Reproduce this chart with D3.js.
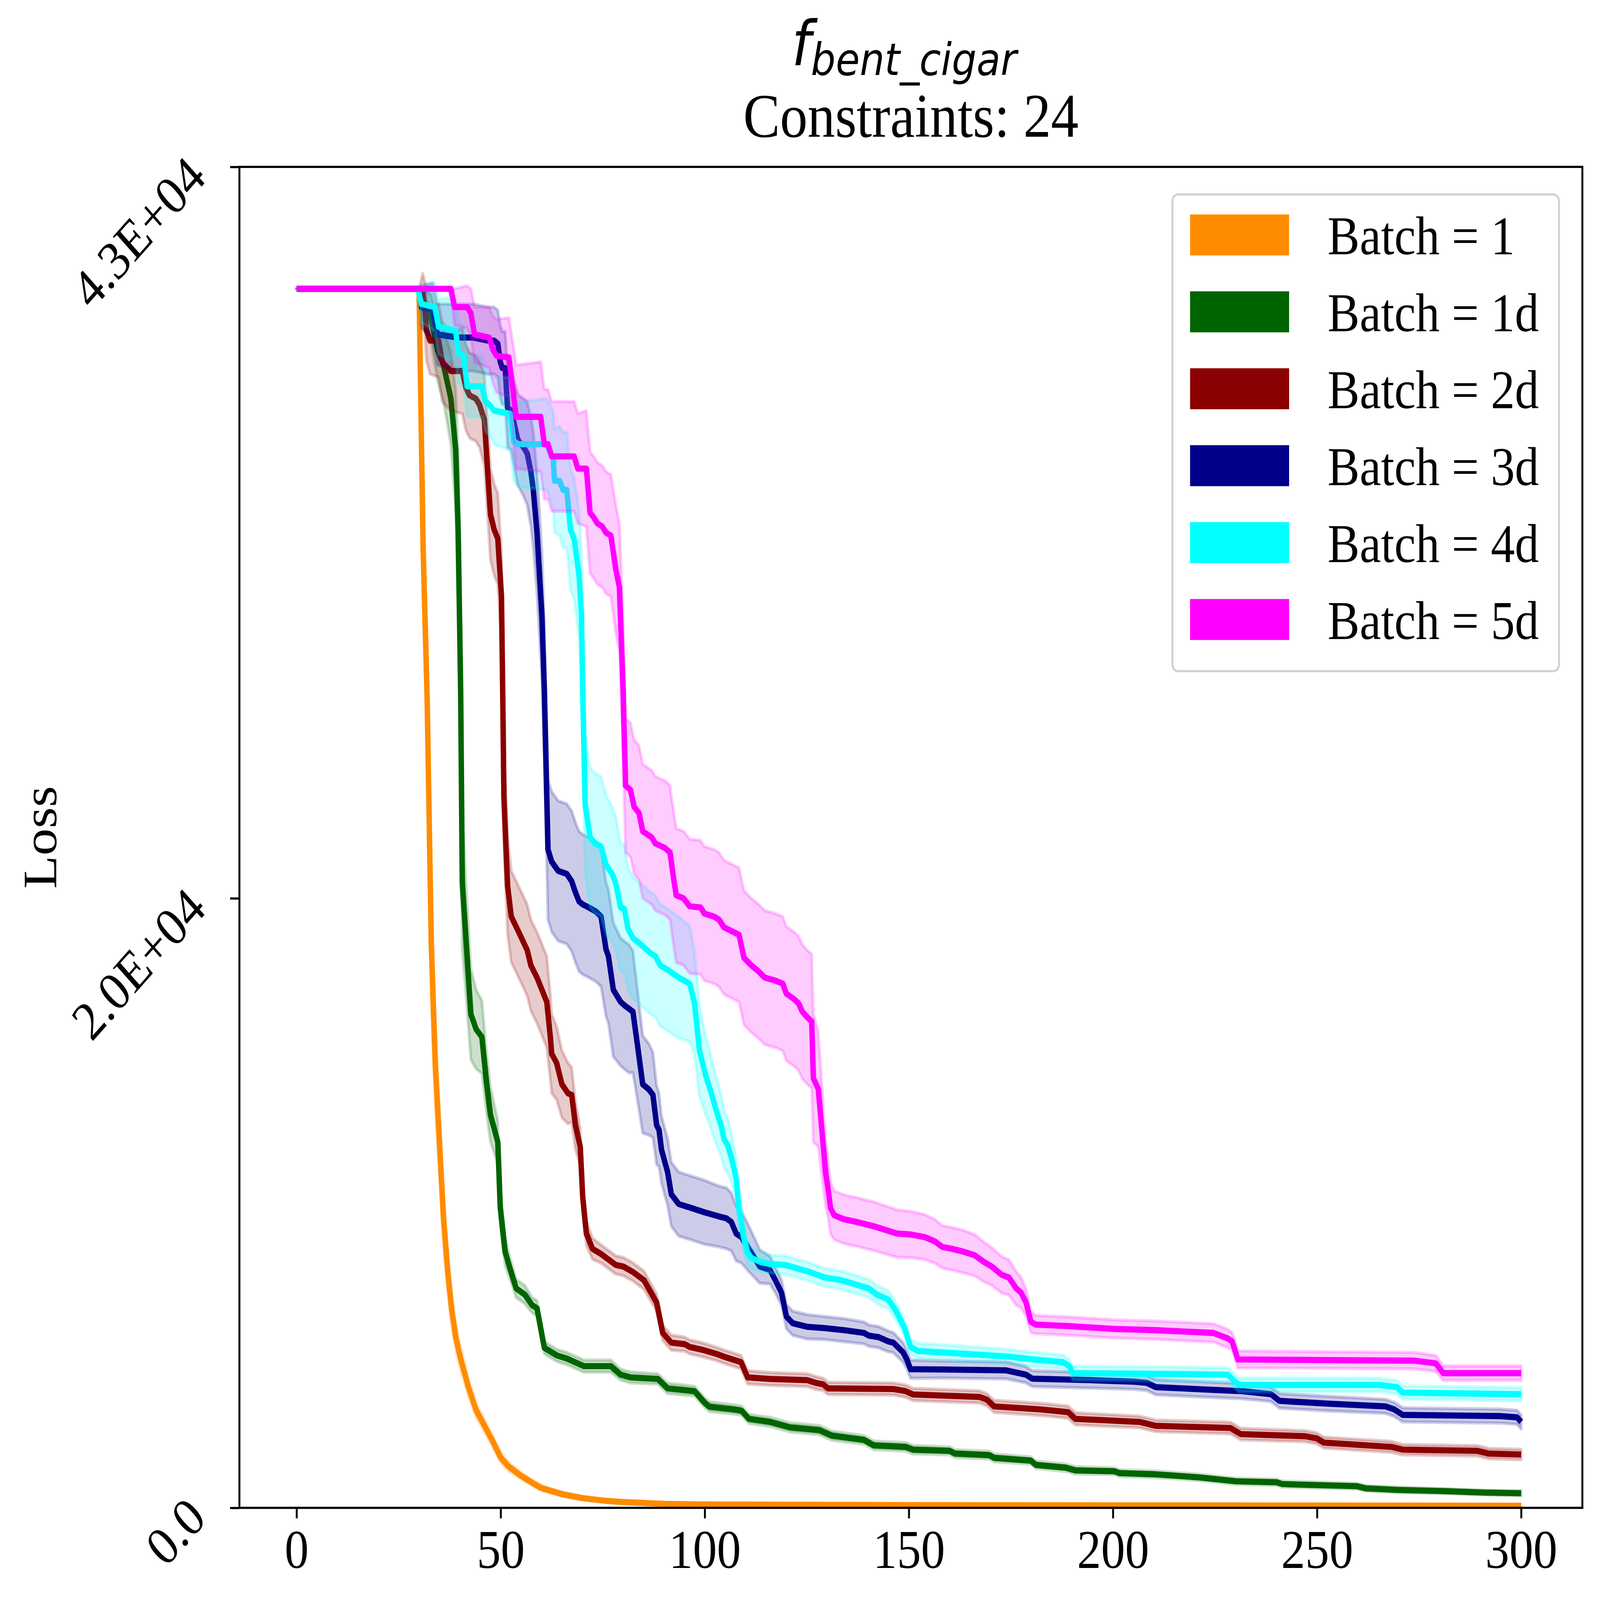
<!DOCTYPE html>
<html>
<head>
<meta charset="utf-8">
<script src="https://cdn.jsdelivr.net/npm/d3@7"></script>
<style>
  html, body { margin: 0; padding: 0; background: #fff; overflow: hidden; }
  #chart svg { display: block; width: 100vw; height: 100vh; }
</style>
</head>
<body>
<div id="chart"></div>
<script>
// tick labels
const xTicks = [0, 50, 100, 150, 200, 250, 300]
const yTickValues = [0, 20000, 44000]
const yTickLabels = ['0.0', '2.0E+04', '4.3E+04']

const seriesNames = ['Batch = 1', 'Batch = 1d', 'Batch = 2d', 'Batch = 3d', 'Batch = 4d', 'Batch = 5d']
const seriesColors = ['#ff8c00', '#006400', '#8b0000', '#00008b', '#00ffff', '#ff00ff']

// rows are [iteration, mean loss, spread]
const batch1 = [
  [0,40000,0],[30,40000,0],[31,31500,1500],[32,26500,2000],[33,18500,2000],[34,14500,1500],
  [35,12000,1200],[36,9500,900],[37,7800,700],[38,6500,550],[39,5600,450],[40,5000,400],
  [41,4500,350],[42,4000,300],[43,3600,280],[44,3200,250],[46,2700,220],[48,2200,200],
  [50,1650,180],[52,1350,150],[55,1050,120],[58,800,100],[60,650,90],[65,450,70],
  [70,320,50],[75,240,40],[80,190,30],[90,130,20],[100,110,15],[150,90,10],[200,80,10],[300,70,10]
]
const batch1d = [
  [0,40000,0],[30,40000,0],[31,39500,500],[33,39000,800],[34.5,38000,1000],[36,37500,1200],
  [37.8,36400,1500],[39,34700,2000],[39.6,32000,2500],[40.2,26800,2500],[40.6,20500,2200],
  [41.5,18650,1800],[42.7,16200,1500],[44,15700,1300],[45.4,15450,1200],[46.5,14000,1000],
  [47.5,12900,900],[49.3,12000,700],[49.9,9850,600],[51.1,8400,450],[52.3,7850,350],
  [53.8,7200,300],[55.9,7000,300],[57.7,6650,250],[58.9,6550,250],[60.7,5250,200],
  [63.8,5000,200],[66.2,4900,200],[70.4,4650,200],[77,4650,200],[79.4,4370,180],
  [81.8,4280,180],[88.5,4230,170],[90.9,3920,170],[97.5,3830,160],[99.9,3460,160],
  [101.1,3320,160],[107.1,3230,150],[109,3190,150],[110.8,2920,150],[116,2820,150],
  [120.9,2640,150],[128.1,2550,150],[131.1,2370,150],[139,2230,140],[141.4,2050,140],
  [149.2,2000,140],[151,1910,140],[160,1870,130],[161.3,1780,130],[169.7,1730,130],
  [170.9,1640,130],[179.9,1550,120],[181.1,1410,120],[188.4,1320,120],[190.8,1230,120],
  [200.4,1200,110],[201.6,1140,110],[210.5,1100,110],[221.1,1000,100],[230.2,870,100],
  [240.1,840,100],[241.5,780,100],[259.8,710,90],[261.9,640,90],[269.6,590,90],
  [280.9,550,80],[291.4,500,80],[300,480,80]
]
const batch2d = [
  [0,40000,0],[30,40000,0],[30.9,39900,600],[31.5,39300,900],[31.8,38650,1000],[32.7,38300,1100],
  [34.8,38300,1200],[35.7,37600,1300],[36.3,37500,1300],[37.8,37300,1300],[40.6,37300,1400],
  [41.5,36750,1400],[42.4,36500,1400],[43.9,36400,1400],[44.8,36200,1400],[46,35700,1500],
  [47.5,32600,1500],[48.4,32100,1500],[49.3,31800,1500],[50.2,29900,1500],[50.5,26800,1600],
  [50.8,23300,1600],[51.7,20400,1600],[52.6,19400,1500],[54.4,18900,1500],[56.5,18300,1500],
  [57.4,17800,1500],[58.9,17400,1500],[60.1,17000,1500],[61.3,16600,1500],[62.2,15400,1400],
  [62.5,14900,1300],[63.7,14600,1200],[65,13900,1100],[66.5,13600,1000],[67.4,13550,900],
  [68.3,12570,800],[69.5,11840,600],[70.1,10200,500],[71,9000,400],[72.5,8500,350],
  [74.6,8330,300],[76.4,8150,300],[78.2,7970,300],[80,7920,300],[82.4,7740,300],
  [85.1,7470,300],[88.2,6740,280],[89.7,5740,250],[91.8,5420,250],[95.1,5370,230],
  [96.3,5280,230],[99.3,5190,230],[102.9,5050,220],[104.7,4960,220],[108.9,4780,220],
  [110.5,4280,220],[116,4230,210],[125.1,4190,210],[127.2,4100,210],[129,4050,200],
  [130.2,3920,200],[146.2,3900,200],[149.2,3830,200],[151,3720,200],[167.3,3640,200],
  [169.1,3550,200],[170.9,3330,200],[182.3,3230,200],[189,3140,200],[190.8,2920,200],
  [206.5,2820,190],[210.5,2690,190],[228.8,2620,190],[231.3,2420,190],[247.1,2350,180],
  [249.9,2280,180],[251.7,2140,180],[268.2,2000,180],[271,1910,170],[289.3,1870,170],
  [292.1,1780,170],[300,1750,170]
]
const batch3d = [
  [0,40000,0],[30,40000,0],[30.6,39400,700],[33.3,39300,900],[34.5,38500,1000],[39.6,38400,1100],
  [43.3,38400,1100],[46.9,38300,1100],[48.4,38300,1100],[49.3,38200,1100],[49.9,37600,1200],
  [50.4,37400,1200],[51.1,37400,1200],[51.7,36100,1300],[52.6,36000,1300],[54.1,35100,1500],
  [54.4,35000,1500],[55.6,34800,1600],[56.5,34600,1700],[57.4,34000,1800],[58,33400,1900],
  [58.9,32000,2000],[60.1,29300,2100],[60.7,26800,2200],[61.6,21600,2300],[62.5,21200,2300],
  [64.1,20900,2300],[66.2,20800,2300],[67.4,20560,2300],[68.3,20200,2300],[69.2,19900,2300],
  [70.1,19800,2300],[71.6,19700,2300],[73.4,19560,2300],[74.6,19400,2300],[75.8,18330,2200],
  [76.4,18100,2200],[77.6,17000,2200],[79.4,16600,2100],[80.6,16460,2100],[81.5,16370,2100],
  [82.4,16280,2000],[83.6,15100,1800],[84.8,13900,1600],[86.3,13730,1500],[87.3,13550,1400],
  [88.2,12560,1300],[88.8,12400,1200],[89.4,11750,1100],[90.9,11020,1100],[91.8,10290,1050],
  [93.6,9970,1050],[96.9,9830,1050],[99.9,9700,1050],[103.5,9560,1000],[105.3,9500,1000],
  [106.5,9380,950],[107.7,9000,900],[109,8880,850],[110.8,8500,750],[113.5,7920,550],
  [116,7800,450],[117.3,7470,420],[118.8,7060,420],[120,6280,400],[121.5,6060,400],
  [125.1,5940,400],[129.3,5900,380],[134.1,5830,380],[139,5740,360],[140.2,5650,350],
  [142.6,5600,350],[145,5460,340],[146.2,5420,330],[148.6,5100,320],[149.5,4870,300],
  [150.4,4550,300],[158.2,4540,280],[173.9,4510,280],[178.7,4370,270],[180.2,4240,260],
  [194.4,4190,260],[205.2,4140,250],[208.3,4100,250],[210.5,3960,250],[224.6,3870,250],
  [231.6,3830,250],[238.7,3730,240],[240.8,3510,240],[252.7,3420,240],[266.8,3330,230],
  [268.9,3230,230],[271,3050,230],[294.9,3010,230],[299,2970,230],[300,2820,230]
]
const batch4d = [
  [0,40000,0],[29.7,40000,0],[30.6,39500,600],[33.9,39400,800],[34.8,38750,900],[36.9,38700,1000],
  [39,38600,1000],[39.6,37900,1000],[40.9,37800,1000],[41.8,36800,1000],[45.4,36800,1000],
  [46.3,36300,1000],[47.2,36200,1000],[48.4,36000,1100],[52.3,35900,1200],[53.2,35000,1300],
  [54.4,34900,1400],[61.3,34900,1500],[62.9,34400,1600],[63.2,33700,1700],[64.4,33700,1800],
  [65.3,33400,1900],[66.2,33400,1900],[67.1,32100,2000],[68,31800,2000],[69.2,30600,2100],
  [69.8,29300,2100],[70.1,26800,2200],[70.7,23100,2300],[71.9,22000,2300],[73.1,21800,2300],
  [74.6,21700,2300],[75.8,21100,2300],[77.3,20800,2200],[78.2,20500,2200],[79.4,19700,2100],
  [80.3,19650,2100],[81.2,19000,2000],[82.4,18700,2000],[84.2,18500,2000],[86.7,18200,2000],
  [87.9,18100,2000],[89.1,17800,2000],[90.3,17700,2000],[91.5,17600,2000],[93.6,17400,2000],
  [96.3,17200,1900],[97.5,16550,1700],[98.7,15000,1500],[100.2,14200,1300],[101.4,13700,1200],
  [102.9,13000,1100],[104.1,12500,1000],[104.7,12100,950],[105.6,11900,900],[106.5,11500,800],
  [107.7,10800,700],[108.4,9800,600],[109.5,8900,500],[110.5,8380,400],[111.4,8200,350],
  [113.8,8060,320],[116,8000,300],[119.7,7970,300],[125.7,7740,300],[129.3,7560,300],
  [133.5,7470,300],[140.2,7200,300],[142,7010,300],[145,6830,300],[146.8,6470,280],
  [148.9,5920,260],[150.4,5280,250],[152.2,5150,250],[164.3,5050,250],[174.5,4960,240],
  [180.5,4870,240],[187.8,4780,230],[189.3,4650,230],[190.2,4420,230],[210.5,4400,230],
  [228.1,4370,230],[229.5,4190,230],[230.9,4030,230],[265.4,4030,220],[269.6,3960,220],
  [271,3780,220],[300,3730,220]
]
const batch5d = [
  [0,40000,0],[37.8,40000,0],[38.7,39400,600],[41.8,39400,700],[42.7,39200,800],[43.6,38500,900],
  [47.2,38400,1000],[48.1,38000,1100],[49,37800,1200],[52,37750,1300],[52.9,36800,1500],
  [53.8,35800,1700],[59.8,35800,1800],[60.7,34900,1800],[61.6,34900,1800],[62.5,34500,1800],
  [68,34500,1800],[68.9,34100,1800],[71,34100,1900],[71.9,32650,2000],[72.8,32500,2000],
  [73.7,32300,2000],[74.9,32200,2000],[75.8,32000,2000],[77,31900,2000],[78.2,30800,2100],
  [79.1,30200,2100],[80,26800,2200],[80.6,23700,2200],[81.8,23560,2200],[82.7,23000,2200],
  [83.9,22800,2200],[84.8,22200,2200],[87,22000,2200],[87.9,21800,2200],[90.3,21650,2200],
  [91.5,21500,2200],[92.1,20900,2200],[93,20100,2200],[94.8,20000,2200],[96.3,19740,2200],
  [99,19700,2200],[99.9,19500,2200],[102.3,19400,2200],[103.5,19300,2200],[104.7,19050,2200],
  [108.4,18800,2200],[109.6,18050,2200],[111.4,17800,2200],[113.2,17600,2200],[114.7,17400,2200],
  [117.3,17300,2200],[119.1,17200,2200],[120,16870,2200],[121.8,16700,2200],[123,16550,2200],
  [123.9,16280,2200],[125.1,16100,2200],[126.2,15960,2200],[126.6,14100,2100],[127.8,13750,1900],
  [128.7,12380,1500],[129.6,11000,1100],[130.3,10380,900],[130.8,9840,850],[131.7,9600,800],
  [134.1,9470,800],[137.2,9380,800],[141.4,9240,800],[147.1,9000,780],[150.4,8970,760],
  [154,8880,740],[156.4,8740,720],[158.2,8560,700],[160.6,8500,700],[163,8420,700],
  [166.1,8290,680],[168.5,8060,650],[170.3,7920,620],[172.7,7650,600],[174.5,7560,580],
  [176.3,7200,550],[177.5,7060,500],[178.7,6740,450],[179.9,6100,350],[181.1,6010,300],
  [188.4,5970,300],[200.4,5870,300],[210.5,5830,300],[224.6,5740,300],[228.1,5560,300],
  [229.2,5460,290],[230.6,4870,280],[273.8,4830,270],[279.1,4740,260],[280.9,4420,240],
  [300,4420,240]
]

const seriesData = [batch1, batch1d, batch2d, batch3d, batch4d, batch5d]

var width = 4992
var height = 4410
var margin = { top: 460, right: 55, bottom: 254, left: 747 }
var serif = '"Liberation Serif", "Times New Roman", Times, serif'

var x = d3.scaleLinear().domain([-14, 315]).range([margin.left, width - margin.right])
var y = d3.scaleLinear().domain([0, 44000]).range([height - margin.bottom, margin.top])

// the drawing is laid out in a 4992x4410 space and stretched to the window
var svg = d3.select('#chart')
    .append('svg')
    .attr('viewBox', '0 0 ' + width + ' ' + height)
    .attr('preserveAspectRatio', 'none')

svg.append('rect')
    .attr('width', width)
    .attr('height', height)
    .attr('fill', '#fff')

svg.append('clipPath')
    .attr('id', 'plot-clip')
    .append('rect')
    .attr('x', margin.left)
    .attr('y', margin.top)
    .attr('width', width - margin.left - margin.right)
    .attr('height', height - margin.top - margin.bottom)

var line = d3.line()
    .x(function(d) { return x(d[0]) })
    .y(function(d) { return y(d[1]) })

var band = d3.area()
    .x(function(d) { return x(d[0]) })
    .y0(function(d) { return y(d[1] - d[2]) })
    .y1(function(d) { return y(d[1] + d[2]) })

var plot = svg.append('g').attr('clip-path', 'url(#plot-clip)')

seriesData.forEach(function(rows, i) {
    plot.append('path')
        .attr('d', line(rows))
        .attr('fill', 'none')
        .attr('stroke', seriesColors[i])
        .attr('stroke-width', 17)
        .attr('stroke-linejoin', 'round')

    plot.append('path')
        .attr('d', band(rows))
        .attr('fill', seriesColors[i])
        .attr('fill-opacity', 0.2)
        .attr('stroke', seriesColors[i])
        .attr('stroke-opacity', 0.2)
        .attr('stroke-width', 9)
        .attr('stroke-linejoin', 'round')
})

// axes
var xAxis = d3.axisBottom(x).tickValues(xTicks).tickSize(29).tickSizeOuter(0).tickPadding(30)
var yAxis = d3.axisLeft(y).tickValues(yTickValues).tickSize(29).tickSizeOuter(0)
    .tickFormat(function(d, i) { return yTickLabels[i] })

var gx = svg.append('g')
    .attr('transform', 'translate(0,' + (height - margin.bottom) + ')')
    .call(xAxis)
gx.select('.domain').remove()
gx.selectAll('line').attr('stroke', '#000').attr('stroke-width', 6)
gx.selectAll('text')
    .attr('fill', '#000')
    .style('font-family', serif)
    .style('font-size', '150px')

var gy = svg.append('g')
    .attr('transform', 'translate(' + margin.left + ',0)')
    .call(yAxis)
gy.select('.domain').remove()
gy.selectAll('line').attr('stroke', '#000').attr('stroke-width', 6)
gy.selectAll('text')
    .attr('x', 0)
    .attr('dy', '0.32em')
    .attr('text-anchor', 'end')
    .attr('transform', 'translate(-132,0) rotate(-45)')
    .attr('fill', '#000')
    .style('font-family', serif)
    .style('font-size', '150px')

// frame
svg.append('rect')
    .attr('x', margin.left)
    .attr('y', margin.top)
    .attr('width', width - margin.left - margin.right)
    .attr('height', height - margin.top - margin.bottom)
    .attr('fill', 'none')
    .attr('stroke', '#000')
    .attr('stroke-width', 6)

svg.append('text')
    .attr('transform', 'translate(175,' + ((margin.top + height - margin.bottom) / 2) + ') rotate(-90)')
    .attr('text-anchor', 'middle')
    .style('font-family', serif)
    .style('font-size', '150px')
    .text('Loss')

// title
var cx = (margin.left + width - margin.right) / 2
var title = svg.append('text')
    .attr('x', cx - 21)
    .attr('y', 180)
    .attr('text-anchor', 'middle')
    .style('font-family', '"DejaVu Sans", sans-serif')
    .style('font-style', 'italic')
    .style('font-size', '170px')
title.append('tspan').text('f')
title.append('tspan').attr('dy', 27).style('font-size', '122px').text('bent_cigar')

svg.append('text')
    .attr('x', cx)
    .attr('y', 377)
    .attr('text-anchor', 'middle')
    .style('font-family', serif)
    .style('font-size', '172px')
    .text('Constraints: 24')

// legend
var legend = svg.append('g').attr('transform', 'translate(3658,536)')
legend.append('rect')
    .attr('width', 1206)
    .attr('height', 1314)
    .attr('rx', 18)
    .attr('fill', '#fff')
    .attr('fill-opacity', 0.8)
    .attr('stroke', '#d0d0d0')
    .attr('stroke-width', 6)

var item = legend.selectAll('.item')
    .data(seriesNames)
    .enter()
    .append('g')
    .attr('class', 'item')
    .attr('transform', function(d, i) { return 'translate(0,' + (55 + i * 212) + ')' })

item.append('rect')
    .attr('x', 55)
    .attr('width', 309)
    .attr('height', 113)
    .attr('fill', function(d, i) { return seriesColors[i] })

item.append('text')
    .attr('x', 484)
    .attr('y', 110)
    .style('font-family', serif)
    .style('font-size', '150px')
    .attr('fill', '#000')
    .text(function(d) { return d })
</script>
</body>
</html>
